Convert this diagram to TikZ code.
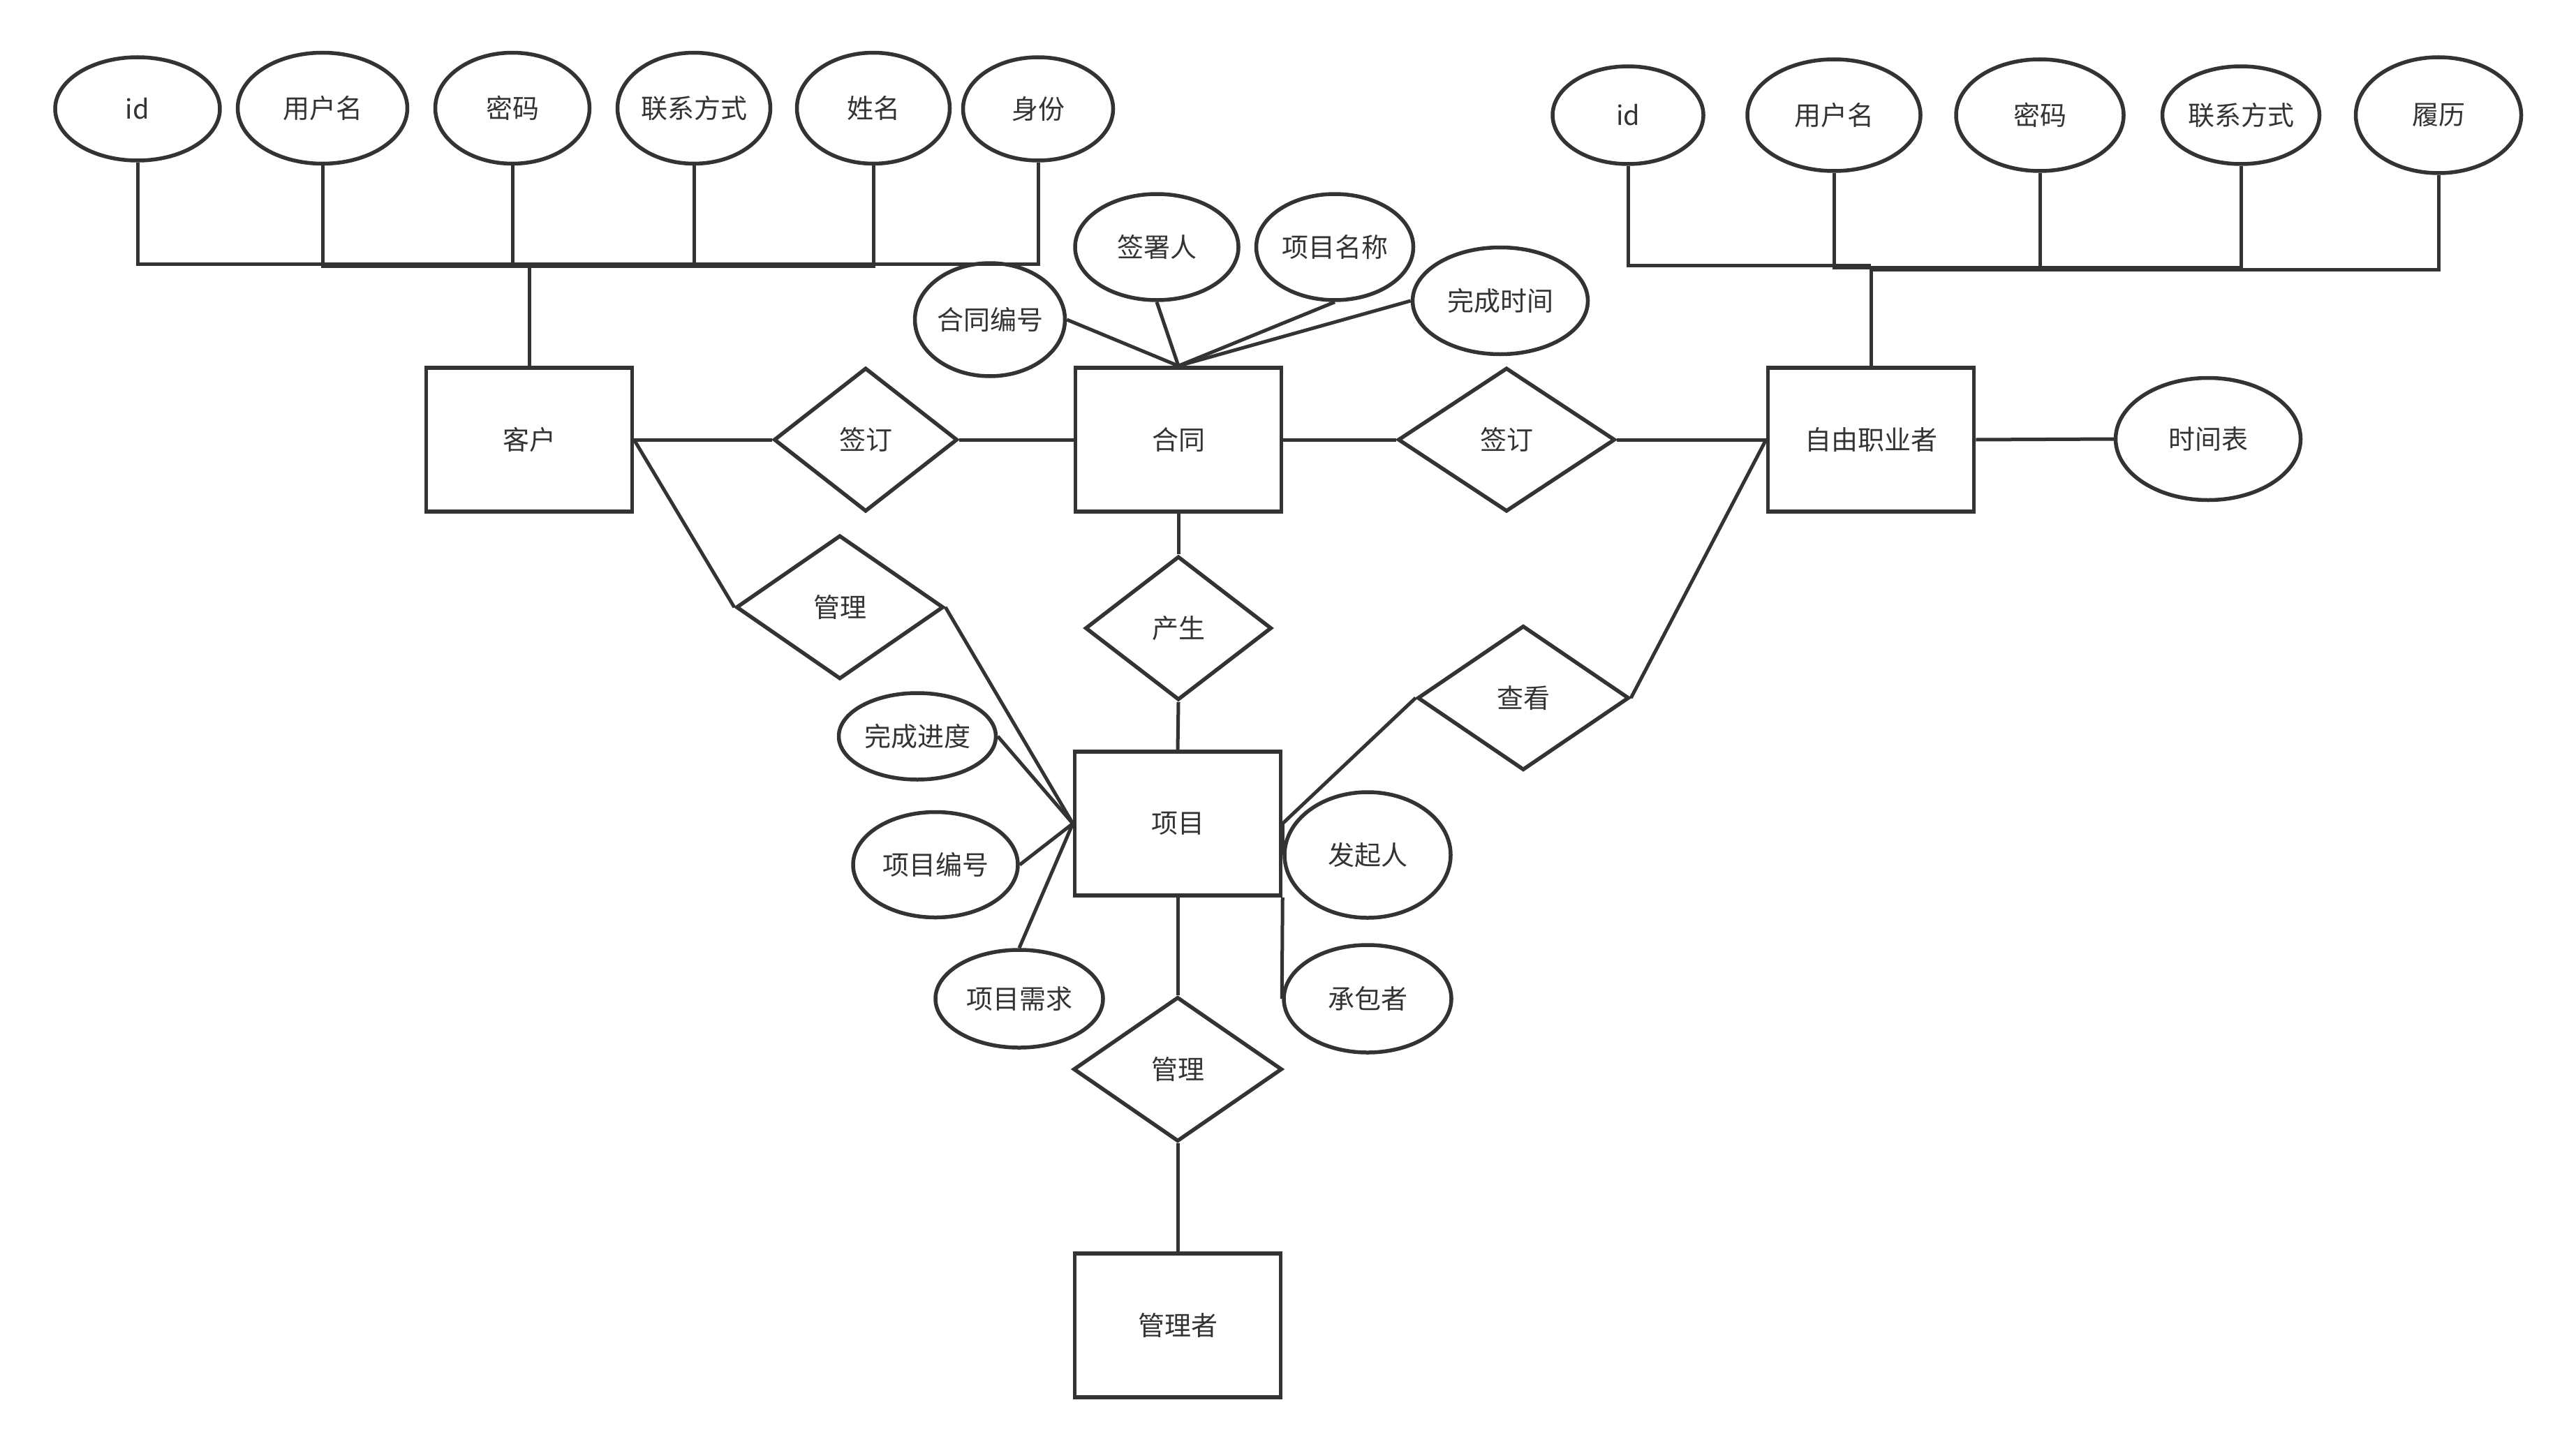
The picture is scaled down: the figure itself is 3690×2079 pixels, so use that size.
\documentclass[tikz,border=0pt]{standalone}
\usepackage{fontspec}
\setmainfont{Noto Sans CJK SC}
\usepackage{tikz}
\usetikzlibrary{shapes.geometric}
\definecolor{ink}{HTML}{333333}
\tikzset{
    entity/.style = {rectangle, minimum width=295pt, minimum height=206pt, inner sep=0pt, text centered, draw=ink, line width=5.5pt, fill=white, text=ink},
    relation/.style = {diamond, inner sep=0pt, text centered, draw=ink, line width=5.5pt, fill=white, text=ink},
    attrib/.style = {ellipse, inner sep=0pt, text centered, draw=ink, line width=5.5pt, fill=white, text=ink},
    link/.style = {line width=5pt, draw=ink}
}

\begin{document}
\begin{tikzpicture}[x=1pt, y=-1pt, font=\fontsize{38}{40}\selectfont]
\useasboundingbox [fill=white] (0,0) rectangle (3690,2079);

% entities
\node (kehu) [entity] at (758,630) {客户};
\node (hetong) [entity] at (1688,630) {合同};
\node (ziyou) [entity] at (2680,630) {自由职业者};
\node (xiangmu) [entity] at (1687,1180) {项目};
\node (guanlizhe) [entity] at (1687,1899) {管理者};

% relations
\node (qianding1) [relation, minimum width=263pt, minimum height=206pt] at (1240,630) {签订};
\node (qianding2) [relation, minimum width=311pt, minimum height=206pt] at (2158,630) {签订};
\node (chansheng) [relation, minimum width=267pt, minimum height=206pt] at (1688,900) {产生};
\node (guanli1) [relation, minimum width=297pt, minimum height=206pt] at (1203,870) {管理};
\node (chakan) [relation, minimum width=303pt, minimum height=207pt] at (2182,1000) {查看};
\node (guanli2) [relation, minimum width=299pt, minimum height=207pt] at (1687,1532) {管理};

% client attributes
\node (kid) [attrib, minimum width=236pt, minimum height=148pt] at (197,156) {id};
\node (kuser) [attrib, minimum width=243pt, minimum height=159pt] at (462,155) {用户名};
\node (kpwd) [attrib, minimum width=221pt, minimum height=159pt] at (734,155) {密码};
\node (ktel) [attrib, minimum width=219pt, minimum height=159pt] at (994,155) {联系方式};
\node (kname) [attrib, minimum width=219pt, minimum height=159pt] at (1251,155) {姓名};
\node (krole) [attrib, minimum width=215pt, minimum height=148pt] at (1487,156) {身份};

% freelancer attributes
\node (zid) [attrib, minimum width=216pt, minimum height=140pt] at (2332,165) {id};
\node (zuser) [attrib, minimum width=248pt, minimum height=160pt] at (2627,165) {用户名};
\node (zpwd) [attrib, minimum width=240pt, minimum height=160pt] at (2922,165) {密码};
\node (ztel) [attrib, minimum width=225pt, minimum height=140pt] at (3210,165) {联系方式};
\node (zcv) [attrib, minimum width=237pt, minimum height=166pt] at (3493,165) {履历};
\node (zplan) [attrib, minimum width=265pt, minimum height=175pt] at (3163,629) {时间表};

% contract attributes
\node (hno) [attrib, minimum width=211pt, minimum height=162pt] at (1418,458) {合同编号};
\node (hsign) [attrib, minimum width=234pt, minimum height=152pt] at (1657,354) {签署人};
\node (hproj) [attrib, minimum width=225pt, minimum height=152pt] at (1912,354) {项目名称};
\node (htime) [attrib, minimum width=251pt, minimum height=153pt] at (2149,431) {完成时间};

% project attributes
\node (xprog) [attrib, minimum width=225pt, minimum height=124pt] at (1314,1055) {完成进度};
\node (xno) [attrib, minimum width=236pt, minimum height=151pt] at (1340,1239) {项目编号};
\node (xneed) [attrib, minimum width=240pt, minimum height=140pt] at (1460,1431) {项目需求};
\node (xstart) [attrib, minimum width=238pt, minimum height=180pt] at (1959,1225) {发起人};
\node (xtaker) [attrib, minimum width=240pt, minimum height=154pt] at (1959,1431) {承包者};

% bus points
\coordinate (kbus) at (758,378);
\coordinate (kbusm) at (758,381.5);
\coordinate (zbus) at (2680,380);
\coordinate (zbusm) at (2680,383.5);
\coordinate (zbusr) at (2680,386);

\draw [link] (kid.south) |- (kbus) -- (kehu.north);
\draw [link] (krole.south) |- (kbus) -- (kehu.north);
\draw [link] (kuser.south) |- (kbusm);
\draw [link] (kpwd.south) |- (kbusm);
\draw [link] (ktel.south) |- (kbusm);
\draw [link] (kname.south) |- (kbusm);

\draw [link] (zid.south) |- (zbus);
\draw [link] (zuser.south) |- (zbusm);
\draw [link] (zpwd.south) |- (zbusm);
\draw [link] (ztel.south) |- (zbusm);
\draw [link] (zcv.south) |- (zbusr) -- (ziyou.north);

\draw [link] (hno.east) -- (hetong.north);
\draw [link] (hsign.south) -- (hetong.north);
\draw [link] (hproj.south) -- (hetong.north);
\draw [link] (htime.west) -- (hetong.north);

\draw [link] (kehu.east) -- (qianding1.west);
\draw [link] (qianding1.east) -- (hetong.west);
\draw [link] (hetong.east) -- (qianding2.west);
\draw [link] (qianding2.east) -- (ziyou.west);
\draw [link] (ziyou.east) -- (zplan.west);

\draw [link] (hetong.south) -- (chansheng.north);
\draw [link] (chansheng.south) -- (xiangmu.north);
\draw [link] (kehu.east) -- (guanli1.west);
\draw [link] (guanli1.east) -- (xiangmu.west);
\draw [link] (xiangmu.east) -- (chakan.west);
\draw [link] (chakan.east) -- (ziyou.west);

\draw [link] (xprog.east) -- (xiangmu.west);
\draw [link] (xno.east) -- (xiangmu.west);
\draw [link] (xneed.north) -- (xiangmu.west);
\draw [link] (xiangmu.east) -- (xstart.west);
\draw [link] (xiangmu.south east) -- (xtaker.west);

\draw [link] (xiangmu.south) -- (guanli2.north);
\draw [link] (guanli2.south) -- (guanlizhe.north);
\end{tikzpicture}
\end{document}
